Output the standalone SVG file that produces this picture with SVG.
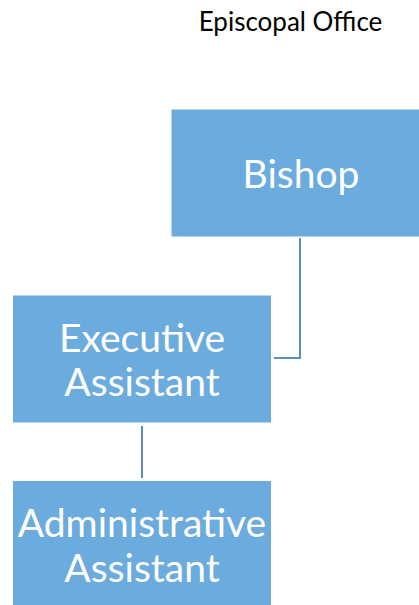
<svg xmlns="http://www.w3.org/2000/svg" width="419" height="605" viewBox="0 0 419 605">
<style>
.box{fill:#6cabdd;stroke:#ffffff;stroke-width:1}
.lbl{font-family:Lato,"Open Sans","Liberation Sans",sans-serif;fill:#ffffff;text-anchor:middle;font-size:39px}
.conn{fill:none;stroke:#5b8fbe;stroke-width:2}
.title{font-family:Lato,"Open Sans","Liberation Sans",sans-serif;fill:#000000;font-size:26px;text-anchor:middle}
</style>
<rect width="419" height="605" fill="#ffffff"/>
<text class="title" x="290.5" y="31">Episcopal Office</text>
<g id="connectors">
<path class="conn" d="M300 238 V358 H274"/>
<path class="conn" d="M142 426 V478"/>
</g>
<g id="bishop">
<rect class="box" x="171" y="109" width="249" height="128"/>
<text class="lbl" x="301" y="188">Bishop</text>
</g>
<g id="executive-assistant">
<rect class="box" x="12.5" y="295" width="259" height="128"/>
<text class="lbl" x="142" y="352">Executive</text>
<text class="lbl" x="142" y="396">Assistant</text>
</g>
<g id="administrative-assistant">
<rect class="box" x="12.5" y="480.5" width="259" height="130"/>
<text class="lbl" x="142" y="537">Administrative</text>
<text class="lbl" x="142" y="582">Assistant</text>
</g>
</svg>
